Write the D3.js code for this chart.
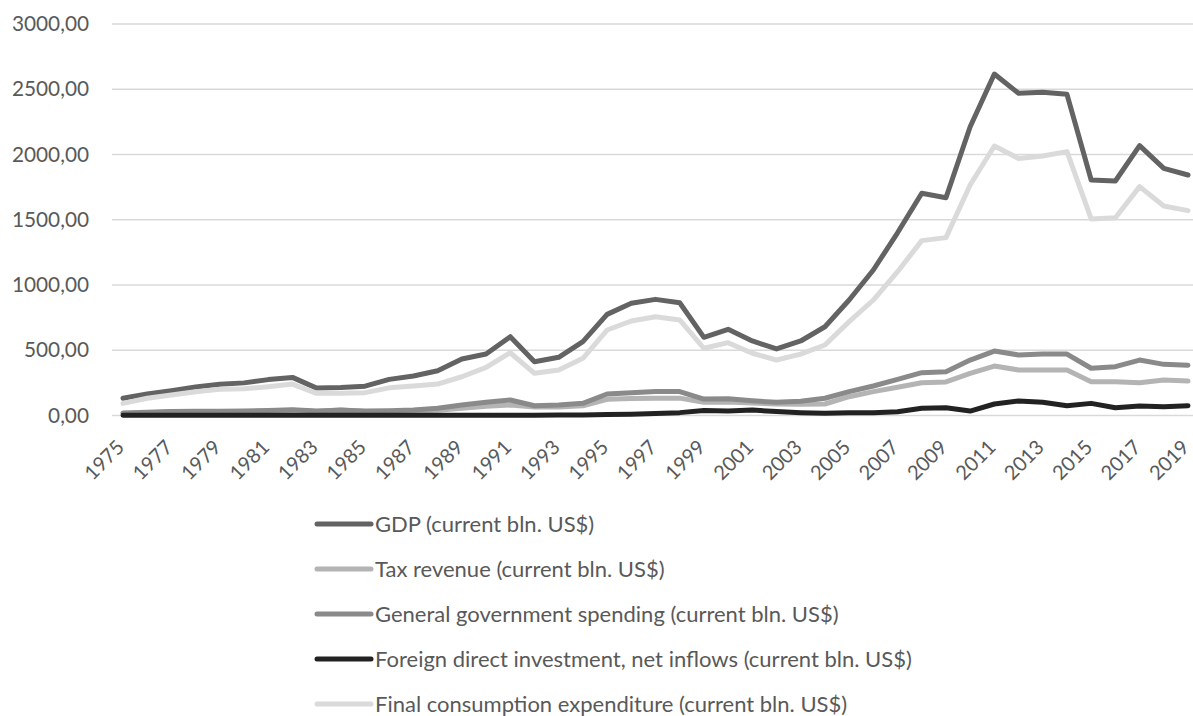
<!DOCTYPE html>
<html>
<head>
<meta charset="utf-8">
<script src="https://cdn.jsdelivr.net/npm/d3@7"></script>
<style>
	body { margin: 0; background: #fff; }
	text { font-family: Lato, "Open Sans", sans-serif; fill: #595959; }
</style>
</head>
<body>
<script>
'use strict';

const years = [
	1975, 1976, 1977, 1978, 1979, 1980, 1981, 1982, 1983, 1984,
	1985, 1986, 1987, 1988, 1989, 1990, 1991, 1992, 1993, 1994,
	1995, 1996, 1997, 1998, 1999, 2000, 2001, 2002, 2003, 2004,
	2005, 2006, 2007, 2008, 2009, 2010, 2011, 2012, 2013, 2014,
	2015, 2016, 2017, 2018, 2019
];

const gdp = [
	132, 165, 190, 218, 240, 250, 275, 292, 210, 214,
	225, 277, 303, 343, 433, 471, 604, 412, 446, 566,
	775, 860, 890, 864, 599, 660, 571, 510, 571, 680,
	885, 1115, 1400, 1703, 1669, 2213, 2617, 2469, 2477, 2461,
	1805, 1797, 2068, 1894, 1843
];

const taxRevenue = [
	15, 20, 30, 25, 25, 27, 30, 40, 30, 45,
	30, 30, 35, 40, 55, 70, 80, 65, 65, 75,
	124, 130, 133, 133, 101, 103, 95, 88, 86, 88,
	144, 183, 216, 251, 257, 323, 379, 349, 349, 349,
	259, 259, 251, 272, 264
];

const govSpending = [
	20, 25, 30, 32, 33, 35, 38, 45, 35, 40,
	35, 37, 42, 55, 80, 101, 119, 75, 80, 93,
	165, 175, 183, 183, 126, 128, 113, 101, 110, 132,
	183, 226, 277, 328, 336, 425, 494, 464, 471, 471,
	362, 374, 425, 392, 385
];

const fdi = [
	2, 1, 1, 1, 1, 1, 1, 1, 1, 1,
	1, 1, 1, 1, 1, 1, 1, 2, 3, 4,
	8, 10, 15, 22, 38, 35, 42, 30, 22, 17,
	22, 22, 29, 55, 60, 34, 88, 111, 101, 75,
	93, 60, 73, 67, 75
];

const finalConsumption = [
	93, 132, 157, 182, 201, 205, 221, 241, 170, 170,
	175, 212, 226, 241, 297, 369, 481, 323, 349, 438,
	655, 724, 757, 732, 515, 558, 477, 425, 470, 540,
	719, 885, 1102, 1340, 1363, 1766, 2065, 1970, 1988, 2022,
	1506, 1516, 1754, 1605, 1570
];

const yTicks = [0, 500, 1000, 1500, 2000, 2500, 3000];
const xTickYears = years.filter((y, i) => i % 2 === 0);

const seriesNames = [
	"GDP (current bln. US$)",
	"Tax revenue (current bln. US$)",
	"General government spending (current bln. US$)",
	"Foreign direct investment, net inflows (current bln. US$)",
	"Final consumption expenditure (current bln. US$)"
];
const seriesColors = ["#636363", "#b4b4b4", "#8a8a8a", "#222222", "#dadada"];
const seriesValues = [gdp, taxRevenue, govSpending, fdi, finalConsumption];

const params = {
	width: 1193,
	height: 716,
	plotLeft: 112,
	plotRight: 1193,
	firstX: 123,
	lastX: 1188,
	top: 24,
	bottom: 415.5,
	lineWidth: 5
};

const svg = d3.select("body")
	.append("svg")
	.attr("width", params.width)
	.attr("height", params.height);

const xScale = d3.scalePoint()
	.domain(years)
	.range([params.firstX, params.lastX]);

const yScale = d3.scaleLinear()
	.domain([0, 3000])
	.range([params.bottom, params.top]);

// gridlines
svg.append("g")
	.selectAll("line")
	.data(yTicks)
	.join("line")
		.attr("x1", params.plotLeft)
		.attr("x2", params.plotRight)
		.attr("y1", d => yScale(d))
		.attr("y2", d => yScale(d))
		.attr("stroke", "#d9d9d9")
		.attr("stroke-width", 1.4);

// y axis labels
const yAxis = svg.append("g")
	.attr("transform", `translate(${params.plotLeft - 23},0)`)
	.call(d3.axisLeft(yScale)
		.tickValues(yTicks)
		.tickSize(0)
		.tickFormat(d => d3.format(".2f")(d).replace(".", ",")));
yAxis.select(".domain").remove();
yAxis.selectAll("text")
	.attr("x", 0)
	.attr("font-size", 20.8)
	.attr("fill", "#595959");

// x axis labels
const xAxis = svg.append("g")
	.attr("transform", `translate(0,${params.bottom})`)
	.call(d3.axisBottom(xScale)
		.tickValues(xTickYears)
		.tickSize(0));
xAxis.select(".domain").remove();
xAxis.selectAll("text")
	.attr("font-size", 20)
	.attr("fill", "#595959")
	.attr("text-anchor", "end")
	.attr("x", 0)
	.attr("y", 0)
	.attr("dy", 0)
	.attr("transform", "translate(2,33) rotate(-45)");

// series lines
const line = d3.line()
	.x((d, i) => xScale(years[i]))
	.y(d => yScale(d));

svg.append("g")
	.attr("fill", "none")
	.attr("stroke-width", params.lineWidth)
	.attr("stroke-linejoin", "round")
	.attr("stroke-linecap", "round")
	.selectAll("path")
	.data(seriesValues)
	.join("path")
		.attr("stroke", (d, i) => seriesColors[i])
		.attr("d", d => line(d));

// legend
const legend = svg.append("g")
	.selectAll("g")
	.data(seriesNames)
	.join("g")
		.attr("transform", (d, i) => `translate(317,${524 + i * 45})`);

legend.append("line")
	.attr("x1", 0)
	.attr("x2", 54)
	.attr("stroke", (d, i) => seriesColors[i])
	.attr("stroke-width", params.lineWidth)
	.attr("stroke-linecap", "round");

legend.append("text")
	.attr("x", 58)
	.attr("dy", "0.36em")
	.attr("font-size", 22)
	.attr("fill", "#595959")
	.text(d => d);
</script>
</body>
</html>
